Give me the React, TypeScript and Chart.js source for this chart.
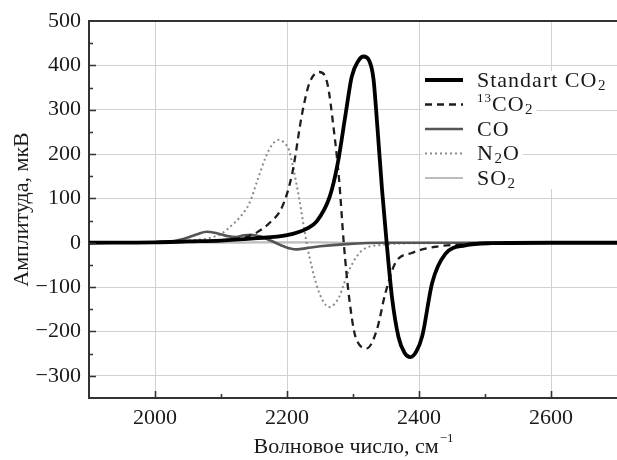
import React, { useEffect, useRef } from 'react';
import { Chart, registerables } from 'chart.js';

Chart.register(...registerables);

// ---- data ----
const co2X = [1900, 2000, 2050, 2100, 2150, 2200, 2230, 2245, 2265, 2277, 2289, 2298, 2308, 2316, 2324, 2331, 2337, 2344, 2351, 2359, 2369, 2378, 2387, 2396, 2405, 2420, 2440, 2470, 2510, 2600, 2700];
const co2Y = [0, 1, 3, 5, 10, 17, 32, 48, 105, 180, 292, 374, 410, 420, 412, 370, 260, 120, 0, -122, -213, -248, -258, -245, -210, -90, -25, -6, -1, 0, 0];

const c13X = [1900, 2000, 2080, 2120, 2140, 2155, 2173, 2193, 2208, 2223, 2234, 2249, 2261, 2271, 2279, 2286, 2294, 2304, 2321, 2336, 2349, 2364, 2389, 2425, 2480, 2550, 2700];
const c13Y = [0, 1, 4, 8, 14, 24, 44, 82, 157, 292, 360, 385, 360, 254, 141, 0, -122, -213, -238, -197, -114, -46, -23, -9, -3, 0, 0];

const coX = [1900, 2000, 2030, 2050, 2065, 2078, 2095, 2110, 2123, 2135, 2145, 2160, 2175, 2190, 2205, 2215, 2230, 2250, 2290, 2350, 2700];
const coY = [0, 1, 4, 12, 20, 25, 21, 15, 13, 17, 18, 14, 5, -5, -13, -15, -12, -8, -3, 0, 0];

const n2oX = [1900, 2000, 2050, 2080, 2100, 2113, 2130, 2143, 2155, 2168, 2178, 2188, 2196, 2203, 2210, 2218, 2231, 2244, 2254, 2264, 2272, 2279, 2294, 2314, 2344, 2400, 2700];
const n2oY = [0, 1, 5, 10, 20, 35, 60, 89, 140, 194, 222, 232, 225, 209, 165, 103, -10, -91, -130, -145, -138, -122, -62, -17, -5, -1, 0];

const so2X = [1900, 2100, 2150, 2200, 2250, 2300, 2400, 2700];
const so2Y = [0, 0, 1, 1, 1, 0, 0, 0];

const seriesLabels = ['Standart CO_2', '^13CO_2', 'CO', 'N_2O', 'SO_2'];
const xTitle = 'Волновое число, см';
const yTitle = 'Амплитуда, мкВ';

// ---- styles ----
const seriesStyles = [
  { color: '#000000', width: 3.8, dash: [] as number[] },
  { color: '#1e1e1e', width: 2.3, dash: [7, 5] },
  { color: '#555555', width: 2.6, dash: [] as number[] },
  { color: '#8a8a8a', width: 2, dash: [2, 3] },
  { color: '#bdbdbd', width: 2.2, dash: [] as number[] },
];

const FONT = '"Liberation Serif", "DejaVu Serif", serif';
const GRID = '#d2d2d2';
const AXIS = '#333333';

function toPoints(xs: number[], ys: number[]) {
  return xs.map((x, i) => ({ x, y: ys[i] }));
}

function fmt(v: number) {
  return v < 0 ? '\u2212' + Math.abs(v) : String(v);
}

type Seg = { t: string; mode: 'n' | 'sub' | 'sup' };
function parseLabel(s: string): Seg[] {
  const out: Seg[] = [];
  let i = 0;
  while (i < s.length) {
    const c = s[i];
    if (c === '_') {
      out.push({ t: s[i + 1], mode: 'sub' });
      i += 2;
    } else if (c === '^') {
      let j = i + 1;
      while (j < s.length && /[0-9]/.test(s[j])) j++;
      out.push({ t: s.slice(i + 1, j), mode: 'sup' });
      i = j;
    } else {
      let j = i;
      while (j < s.length && s[j] !== '_' && s[j] !== '^') j++;
      out.push({ t: s.slice(i, j), mode: 'n' });
      i = j;
    }
  }
  return out;
}

function drawRich(ctx: CanvasRenderingContext2D, segs: Seg[], x: number, y: number, size: number) {
  let cx = x;
  for (const sg of segs) {
    if (sg.mode === 'n') {
      ctx.font = `${size}px ${FONT}`;
      ctx.fillText(sg.t, cx, y);
    } else if (sg.mode === 'sub') {
      ctx.font = `${Math.round(size * 0.68)}px ${FONT}`;
      ctx.fillText(sg.t, cx + 0.5, y + size * 0.22);
    } else {
      ctx.font = `${Math.round(size * 0.6)}px ${FONT}`;
      ctx.fillText(sg.t, cx, y - size * 0.32);
    }
    cx += ctx.measureText(sg.t).width + (sg.mode === 'sub' ? 0.5 : 0);
  }
  return cx;
}

const inwardTicks = {
  id: 'inwardTicks',
  afterDatasetsDraw(chart: any) {
    const { ctx, chartArea: a, scales } = chart;
    const x = scales.x;
    const y = scales.y;
    ctx.save();
    ctx.strokeStyle = AXIS;
    ctx.lineWidth = 1.6;
    ctx.beginPath();
    x.ticks.forEach((t: any) => {
      const px = Math.round(x.getPixelForValue(t.value)) + 0.5;
      if (px <= a.left + 2 || px >= a.right - 2) return;
      const len = t.value % 200 === 0 ? 7 : 4;
      ctx.moveTo(px, a.bottom);
      ctx.lineTo(px, a.bottom - len);
    });
    y.ticks.forEach((t: any) => {
      const py = Math.round(y.getPixelForValue(t.value)) + 0.5;
      if (py <= a.top + 2 || py >= a.bottom - 2) return;
      const len = t.value % 100 === 0 ? 7 : 4;
      ctx.moveTo(a.left, py);
      ctx.lineTo(a.left + len, py);
    });
    ctx.stroke();
    ctx.lineWidth = 2;
    ctx.beginPath();
    ctx.moveTo(a.left - 1, a.top);
    ctx.lineTo(a.right, a.top);
    ctx.stroke();
    ctx.restore();
  },
};

const customLegend = {
  id: 'customLegend',
  afterDraw(chart: any) {
    const { ctx, chartArea: a, scales } = chart;
    const boxL = a.left + 333;
    const boxT = a.top + 50;
    const boxB = a.top + 168;
    const boxR = a.right;
    const row0 = a.top + 59;
    const rowH = 24.5;
    const size = 22;
    ctx.save();
    ctx.fillStyle = '#ffffff';
    ctx.fillRect(boxL, boxT, boxR - boxL, boxB - boxT);
    ctx.textBaseline = 'middle';
    ctx.textAlign = 'left';
    (ctx as any).letterSpacing = '1px';
    const ends: { y: number; end: number }[] = [];
    seriesLabels.forEach((lab, i) => {
      const ry = row0 + i * rowH;
      const st = seriesStyles[i];
      ctx.strokeStyle = st.color;
      ctx.lineWidth = st.width;
      ctx.setLineDash(st.dash);
      ctx.beginPath();
      ctx.moveTo(boxL + 3, ry);
      ctx.lineTo(boxL + 41, ry);
      ctx.stroke();
      ctx.setLineDash([]);
      ctx.fillStyle = '#1a1a1a';
      const end = drawRich(ctx, parseLabel(lab), boxL + 55, ry + 1, size);
      ends.push({ y: ry, end });
    });
    // horizontal grid lines run over the legend box outside the text
    ctx.strokeStyle = GRID;
    ctx.lineWidth = 1;
    for (const t of scales.y.ticks) {
      if (t.value % 100 !== 0) continue;
      const py = Math.round(scales.y.getPixelForValue(t.value)) + 0.5;
      if (py <= boxT || py >= boxB) continue;
      let start = boxL;
      for (const e of ends) {
        if (Math.abs(e.y - py) < 11) start = Math.max(start, e.end + 3);
      }
      ctx.beginPath();
      ctx.moveTo(start, py);
      ctx.lineTo(boxR, py);
      ctx.stroke();
    }
    ctx.restore();
  },
};

const xTitleSup = {
  id: 'xTitleSup',
  afterDraw(chart: any) {
    const { ctx, chartArea: a } = chart;
    ctx.save();
    const size = 22;
    ctx.font = `${size}px ${FONT}`;
    const w1 = ctx.measureText(xTitle).width;
    ctx.font = `${Math.round(size * 0.6)}px ${FONT}`;
    const w2 = ctx.measureText('\u22121').width;
    const cx = (a.left + a.right) / 2;
    const x0 = cx - (w1 + w2) / 2;
    const y0 = 447;
    ctx.fillStyle = '#1a1a1a';
    ctx.textBaseline = 'middle';
    ctx.textAlign = 'left';
    ctx.font = `${size}px ${FONT}`;
    ctx.fillText(xTitle, x0, y0);
    ctx.font = `${Math.round(size * 0.6)}px ${FONT}`;
    ctx.fillText('\u22121', x0 + w1 + 1, y0 - 8);
    ctx.restore();
  },
};

export default function App() {
  const ref = useRef<HTMLCanvasElement | null>(null);
  useEffect(() => {
    if (!ref.current) return;
    const xs = [co2X, c13X, coX, n2oX, so2X];
    const ys = [co2Y, c13Y, coY, n2oY, so2Y];
    const chart = new Chart(ref.current, {
      type: 'line',
      data: {
        datasets: seriesLabels.map((lab, i) => ({
          label: lab,
          data: toPoints(xs[i], ys[i]),
          borderColor: seriesStyles[i].color,
          borderWidth: seriesStyles[i].width,
          borderDash: seriesStyles[i].dash,
          pointRadius: 0,
          fill: false,
          cubicInterpolationMode: 'monotone' as const,
        })),
      },
      options: {
        animation: false,
        responsive: false,
        devicePixelRatio: 1,
        layout: { padding: { left: 4, top: 21, right: 0, bottom: 0 } },
        plugins: {
          legend: { display: false },
          tooltip: { enabled: false },
        },
        scales: {
          x: {
            type: 'linear',
            min: 1900,
            max: 2700,
            afterFit: (s: any) => {
              s.height = 62;
              s.paddingLeft = 0;
              s.paddingRight = 0;
            },
            ticks: {
              stepSize: 100,
              autoSkip: false,
              maxRotation: 0,
              padding: 7,
              color: '#1a1a1a',
              font: { family: FONT, size: 22 },
              callback: (v: any) => (Number(v) % 200 === 0 ? String(v) : ''),
            },
            grid: {
              drawTicks: false,
              color: (c: any) => (c.tick && c.tick.value % 200 === 0 ? GRID : 'rgba(0,0,0,0)'),
              lineWidth: 1,
            },
            border: { color: AXIS, width: 2 },
            title: { display: false },
          },
          y: {
            type: 'linear',
            min: -350,
            max: 500,
            afterFit: (s: any) => {
              s.width = 85;
              s.paddingTop = 0;
              s.paddingBottom = 0;
            },
            ticks: {
              stepSize: 50,
              autoSkip: false,
              padding: 8,
              color: '#1a1a1a',
              font: { family: FONT, size: 22 },
              callback: (v: any) => (Number(v) % 100 === 0 ? fmt(Number(v)) : ''),
            },
            grid: {
              drawTicks: false,
              color: (c: any) => (c.tick && c.tick.value % 100 === 0 ? GRID : 'rgba(0,0,0,0)'),
              lineWidth: 1,
            },
            border: { color: AXIS, width: 2 },
            title: {
              display: true,
              text: yTitle,
              color: '#1a1a1a',
              font: { family: FONT, size: 22 },
              padding: { top: 5, bottom: 0 },
            },
          },
        },
      },
      plugins: [inwardTicks, customLegend, xTitleSup],
    });
    return () => chart.destroy();
  }, []);
  return (
    <div style={{ position: 'absolute', left: 0, top: 0, width: 617, height: 460, background: '#fff' }}>
      <canvas ref={ref} width={617} height={460} style={{ display: 'block' }} />
    </div>
  );
}
